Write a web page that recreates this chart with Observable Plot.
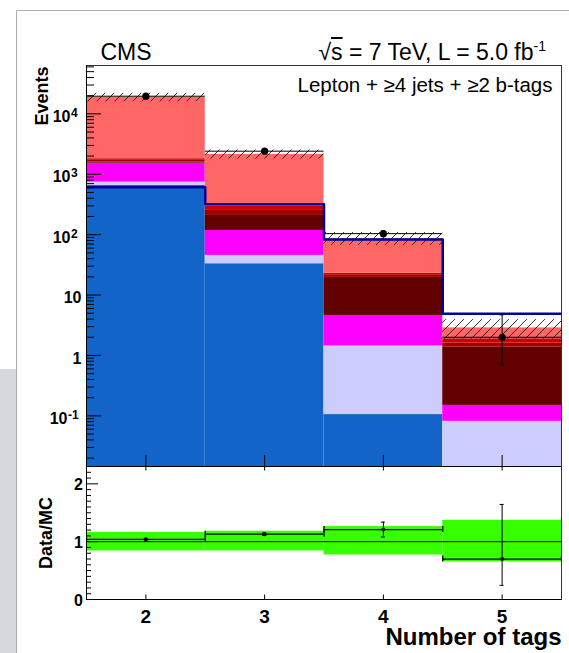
<!DOCTYPE html>
<html>
<head>
<meta charset="utf-8">
<script src="https://cdn.jsdelivr.net/npm/d3@7"></script>
<script src="https://cdn.jsdelivr.net/npm/@observablehq/plot@0.6"></script>
<style>
  html, body { margin: 0; padding: 0; background: #fff; }
  #page { position: relative; width: 569px; height: 653px; overflow: hidden;
          font-family: "Liberation Sans", Arial, Helvetica, sans-serif; }
  #side { position: absolute; left: 0; top: 369px; width: 16px; height: 284px; background: #d5d9de; }
  #edge-top { position: absolute; left: 16px; top: 10px; right: 0; height: 0; border-top: 1.5px solid #a9b2b0; }
  #edge-left { position: absolute; left: 16px; top: 10px; bottom: 0; width: 0; border-left: 1.5px solid #a9b2b0; }
  #upper, #lower { position: absolute; left: 0; }
  #upper { top: 0; }
  #lower { top: 466px; }
  #energy { position: absolute; right: 23px; top: 40.5px; font-size: 23px; line-height: 23px; white-space: nowrap; }
  #energy .root { text-decoration: overline; }
  #energy .sup { font-size: 14px; vertical-align: 9px; line-height: 0; }
</style>
</head>
<body>
<div id="page">
  <div id="side"></div>
  <div id="edge-top"></div>
  <div id="edge-left"></div>
  <div id="upper"></div>
  <div id="lower"></div>
  <div id="energy">√<span class="root">s</span> = 7 TeV, L = 5.0 fb<span class="sup">-1</span></div>
</div>
<script>
// ---- b-tag multiplicity bins ----
const nTags = [2, 3, 4, 5];
const xTickLabels = ["2", "3", "4", "5"];

// ---- expected events per process (stacked, bottom to top) ----
const ewk       = [653, 33.0, 0.105, 0];
const ttV       = [87, 12.3, 1.33, 0.081];
const singleTop = [787, 72.1, 3.16, 0.068];
const ttbb      = [73, 90.6, 15.0, 1.22];
const ttb       = [100, 44, 1.6, 0.23];
const ttcc      = [108, 41, 1.8, 0.29];
const ttlf      = [17040, 1840, 63, 0.97];

// ---- signal, drawn as an outline ----
const ttH = [611, 320, 83, 4.9];

// ---- observed data ----
const dataCounts = [19600, 2410, 104, 2];
const dataLow    = [19460, 2361, 93, 0.70];
const dataHigh   = [19740, 2459, 115, 4.7];

// ---- relative uncertainty on the total expectation ----
const mcUncLow  = [0.84, 0.84, 0.77, 0.65];
const mcUncHigh = [1.16, 1.18, 1.26, 1.37];

// ---- axis tick labels ----
const yTickLabels = [
  {v: 1e-1, base: "10", exp: "-1"},
  {v: 1,    base: "1",  exp: ""},
  {v: 10,   base: "10", exp: ""},
  {v: 1e2,  base: "10", exp: "2"},
  {v: 1e3,  base: "10", exp: "3"},
  {v: 1e4,  base: "10", exp: "4"}
];
const ratioTicks = [0, 1, 2];
const ratioTickLabels = ["0", "1", "2"];

// ---- layout ----
const FONT = '"Liberation Sans", Arial, Helvetica, sans-serif';
const W = 569;
const frameLeft = 86, frameRight = 561;
const upperTop = 65, split = 466, lowerBottom = 599, H = 653;
const xDomain = [nTags[0] - 0.5, nTags[nTags.length - 1] + 0.5];
const xPerPx = (xDomain[1] - xDomain[0]) / (frameRight - frameLeft);
const yDomain = [0.0145, 63200];
const pxPerDecade = (split - upperTop) / Math.log10(yDomain[1] / yDomain[0]);
const yUp = px => 10 ** (px / pxPerDecade);
const rDomain = [0, 2.3];
const rPerPx = (rDomain[1] - rDomain[0]) / (lowerBottom - split);

const layers = [
  {name: "EWK",      values: ewk,       fill: "#1264c8"},
  {name: "tt+V",     values: ttV,       fill: "#ccccff"},
  {name: "single t", values: singleTop, fill: "#ff00ff"},
  {name: "tt+bb",    values: ttbb,      fill: "#620000"},
  {name: "tt+b",     values: ttb,       fill: "#a00000"},
  {name: "tt+cc",    values: ttcc,      fill: "#cc0000"},
  {name: "tt+lf",    values: ttlf,      fill: "#ff6666"}
];

// cumulative stack; the lowest edge sits below the visible axis
const floor = yDomain[0] / 10;
const cum = nTags.map(() => 0);
const layerRects = layers.map(L => {
  const rows = nTags.map((n, i) => {
    const lo = cum[i];
    cum[i] += L.values[i];
    return {x1: n - 0.5, x2: n + 0.5, y1: Math.max(lo, floor), y2: cum[i], v: L.values[i]};
  }).filter(d => d.v > 0);
  return {...L, rows};
});
const mcTotal = cum.slice();

const bins = nTags.map((n, i) => ({
  n, x1: n - 0.5, x2: n + 0.5,
  mc: mcTotal[i],
  data: dataCounts[i], lo: dataLow[i], hi: dataHigh[i],
  bandLo: mcTotal[i] * mcUncLow[i], bandHi: mcTotal[i] * mcUncHigh[i],
  ratio: dataCounts[i] / mcTotal[i],
  rLo: dataLow[i] / mcTotal[i], rHi: dataHigh[i] / mcTotal[i],
  uLo: mcUncLow[i], uHi: mcUncHigh[i]
}));

const sigPts = [
  ...nTags.map((n, i) => ({x: n - 0.5, y: ttH[i]})),
  {x: xDomain[1], y: ttH[ttH.length - 1]}
];

// log-axis ticks
const yMajor = [], yMinor = [];
for (let e = -2; e <= 4; e++) {
  for (let m = 1; m <= 9; m++) {
    const v = m * 10 ** e;
    if (v < yDomain[0] || v > yDomain[1]) continue;
    (m === 1 ? yMajor : yMinor).push(v);
  }
}
// ratio-axis ticks
const rMinor = d3.range(0, 23).map(k => k / 10).filter(v => !ratioTicks.includes(v));

const capX = 2 * xPerPx;
const txt = {fontWeight: "bold", lineAnchor: "middle"};

// exponent-style labels: base number plus raised exponent
function powerLabels(items, baseDx) {
  return [
    Plot.text(items, {y: "v", text: "base", frameAnchor: "left", textAnchor: "end",
      dx: baseDx, dy: 3, fontSize: 16, ...txt}),
    Plot.text(items.filter(d => d.exp), {y: "v", text: "exp", frameAnchor: "left", textAnchor: "start",
      dx: baseDx + 0.5, dy: -1, fontSize: 12, ...txt})
  ];
}

const upper = Plot.plot({
  width: W, height: split + 1,
  marginTop: upperTop, marginBottom: 1, marginLeft: frameLeft, marginRight: W - frameRight,
  x: {domain: xDomain, axis: null},
  y: {type: "log", domain: yDomain, axis: null},
  style: {background: "transparent", overflow: "visible", fontFamily: FONT},
  marks: [
    ...layerRects.map(L => Plot.rect(L.rows, {x1: "x1", x2: "x2", y1: "y1", y2: "y2", fill: L.fill, clip: true})),
    Plot.rect(bins, {x1: "x1", x2: "x2", y1: "bandLo", y2: "bandHi", fill: "url(#hatch)"}),
    Plot.line(sigPts, {x: "x", y: "y", curve: "step-after", stroke: "#000099", strokeWidth: 2.5, clip: true}),
    Plot.ruleY(bins, {y: "data", x1: "x1", x2: "x2", stroke: "black", strokeWidth: 1}),
    Plot.ruleX(bins, {x: "n", y1: "lo", y2: "hi", stroke: "black", strokeWidth: 1}),
    Plot.ruleY(bins, {y: "lo", x1: d => d.n - capX, x2: d => d.n + capX, stroke: "black"}),
    Plot.ruleY(bins, {y: "hi", x1: d => d.n - capX, x2: d => d.n + capX, stroke: "black"}),
    Plot.dot(bins, {x: "n", y: "data", r: 3.6, fill: "black"}),
    Plot.frame({stroke: "#333"}),
    Plot.ruleX([xDomain[0]], {stroke: "black"}),
    Plot.ruleY([yDomain[0]], {stroke: "black"}),
    Plot.ruleY(yMajor, {y: d => d, x1: xDomain[0], x2: xDomain[0] + 15 * xPerPx, stroke: "black"}),
    Plot.ruleY(yMinor, {y: d => d, x1: xDomain[0], x2: xDomain[0] + 8 * xPerPx, stroke: "black"}),
    Plot.ruleX(nTags, {x: d => d, y1: yDomain[0], y2: yDomain[0] * yUp(11), stroke: "black"}),
    ...powerLabels(yTickLabels.filter(d => !d.exp), -5),
    ...powerLabels(yTickLabels.filter(d => d.exp.length === 1), -16),
    ...powerLabels(yTickLabels.filter(d => d.exp.length === 2), -19),
    Plot.text(["Events"], {frameAnchor: "top-left", rotate: -90, textAnchor: "end",
      dx: -43.8, dy: 1, fontSize: 18, ...txt}),
    Plot.text(["CMS"], {frameAnchor: "top-left", textAnchor: "start", dx: 14, dy: -12.4,
      fontSize: 23, lineAnchor: "middle"}),
    Plot.text(["Lepton + ≥4 jets + ≥2 b-tags"], {frameAnchor: "top-right", textAnchor: "end",
      dx: -9, dy: 20, fontSize: 20.5, lineAnchor: "middle"})
  ]
});

// diagonal hatching for the uncertainty band
const defs = d3.select(upper).insert("defs", ":first-child");
const pat = defs.append("pattern").attr("id", "hatch")
  .attr("patternUnits", "userSpaceOnUse").attr("width", 9).attr("height", 9);
pat.append("path").attr("d", "M-1,1 l2,-2 M0,9 l9,-9 M8,10 l2,-2")
  .attr("stroke", "#000").attr("stroke-width", 0.8).attr("fill", "none");
document.getElementById("upper").append(upper);

const lower = Plot.plot({
  width: W, height: H - split,
  marginTop: 0, marginBottom: H - lowerBottom, marginLeft: frameLeft, marginRight: W - frameRight,
  x: {domain: xDomain, axis: null},
  y: {domain: rDomain, axis: null},
  style: {background: "transparent", overflow: "visible", fontFamily: FONT},
  marks: [
    Plot.rect(bins, {x1: "x1", x2: "x2", y1: "uLo", y2: "uHi", fill: "#38ff00"}),
    Plot.ruleY([1], {stroke: "black", strokeWidth: 1}),
    Plot.ruleY(bins, {y: "ratio", x1: "x1", x2: "x2", stroke: "black", strokeWidth: 1.3}),
    Plot.ruleX(bins, {x: "x1", y1: d => d.ratio - 3 * rPerPx, y2: d => d.ratio + 3 * rPerPx, stroke: "black", strokeWidth: 1.3, clip: true}),
    Plot.ruleX(bins, {x: "x2", y1: d => d.ratio - 3 * rPerPx, y2: d => d.ratio + 3 * rPerPx, stroke: "black", strokeWidth: 1.3, clip: true}),
    Plot.ruleX(bins, {x: "n", y1: "rLo", y2: "rHi", stroke: "black", strokeWidth: 1}),
    Plot.ruleY(bins, {y: "rLo", x1: d => d.n - capX, x2: d => d.n + capX, stroke: "black"}),
    Plot.ruleY(bins, {y: "rHi", x1: d => d.n - capX, x2: d => d.n + capX, stroke: "black"}),
    Plot.dot(bins, {x: "n", y: "ratio", r: 2, fill: "black"}),
    Plot.frame({stroke: "#333"}),
    Plot.ruleX([xDomain[0]], {stroke: "black"}),
    Plot.ruleY([rDomain[0]], {stroke: "black"}),
    Plot.ruleY([rDomain[1]], {stroke: "black"}),
    Plot.ruleY(ratioTicks, {y: d => d, x1: xDomain[0], x2: xDomain[0] + 12 * xPerPx, stroke: "black"}),
    Plot.ruleY(rMinor, {y: d => d, x1: xDomain[0], x2: xDomain[0] + 5 * xPerPx, stroke: "black"}),
    Plot.ruleX(nTags, {x: d => d, y1: rDomain[0], y2: rDomain[0] + 4.5 * rPerPx, stroke: "black"}),
    Plot.ruleX(nTags, {x: d => d, y1: rDomain[1] - 4.5 * rPerPx, y2: rDomain[1], stroke: "black"}),
    Plot.text(ratioTicks, {y: d => d, text: (d, i) => ratioTickLabels[i], frameAnchor: "left",
      textAnchor: "end", dx: -3.5, dy: 1, fontSize: 16, ...txt}),
    Plot.text(nTags, {x: d => d, text: (d, i) => xTickLabels[i], frameAnchor: "bottom",
      dy: 17, fontSize: 19, ...txt}),
    Plot.text(["Data/MC"], {frameAnchor: "left", rotate: -90, textAnchor: "middle",
      dx: -39.8, fontSize: 18, ...txt}),
    Plot.text(["Number of tags"], {frameAnchor: "bottom-right", textAnchor: "end",
      dy: 38.3, fontSize: 24, ...txt})
  ]
});
document.getElementById("lower").append(lower);
</script>
</body>
</html>
